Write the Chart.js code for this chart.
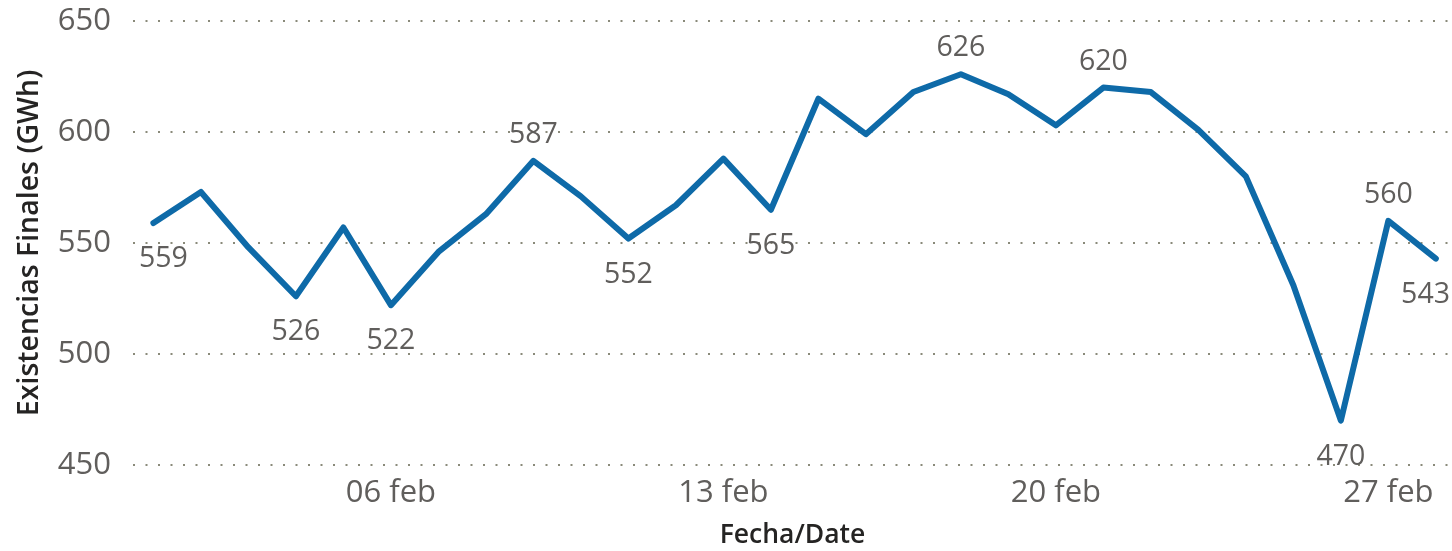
<!DOCTYPE html>
<html>
<head>
<meta charset="utf-8">
<script src="https://cdn.jsdelivr.net/npm/chart.js@4/dist/chart.umd.min.js"></script>
<style>
  html, body { margin: 0; padding: 0; background: #ffffff; }
  #wrap { width: 1452px; height: 551px; position: relative; }
</style>
</head>
<body>
<div id="wrap"><canvas id="c"></canvas></div>
<script>
// ---- data ----
const days = [1,2,3,4,5,6,7,8,9,10,11,12,13,14,15,16,17,18,19,20,21,22,23,24,25,26,27,28];
const existencias = [559,573,548,526,557,522,546,563,587,571,552,567,588,565,615,599,618,626,617,603,620,618,601,580,531,470,560,543];
const tickDays = [6, 13, 20, 27];
const tickLabels = ['06 feb', '13 feb', '20 feb', '27 feb'];
const yTicks = [450, 500, 550, 600, 650];
const labelIdx = [0, 3, 5, 8, 10, 13, 17, 20, 25, 26, 27];
const labelPos = ['below','below','below','above','below','below','above','above','below','above','below'];
const yTitle = 'Existencias Finales (GWh)';
const xTitle = 'Fecha/Date';

const FONT = "'Open Sans', 'Noto Sans', sans-serif";

const dataLabelPlugin = {
  id: 'dataLabels',
  afterDatasetsDraw(chart) {
    const ctx = chart.ctx;
    const meta = chart.getDatasetMeta(0);
    const area = chart.chartArea;
    ctx.save();
    ctx.font = '28.5px ' + FONT;
    ctx.fillStyle = '#605e5c';
    ctx.textAlign = 'center';
    ctx.textBaseline = 'middle';
    labelIdx.forEach((i, k) => {
      const pt = meta.data[i];
      const txt = String(existencias[i]);
      const w = ctx.measureText(txt).width;
      let x = pt.x;
      x = Math.max(x, area.left + w / 2 + 6);
      x = Math.min(x, chart.width - w / 2 - 2);
      const y = labelPos[k] === 'above' ? pt.y - 26 : pt.y + 36;
      ctx.fillText(txt, x, y);
    });
    ctx.restore();
  }
};

new Chart(document.getElementById('c'), {
  type: 'line',
  data: {
    datasets: [{
      data: days.map((d, i) => ({ x: d, y: existencias[i] })),
      borderColor: '#0e6aa8',
      borderWidth: 6,
      pointRadius: 0,
      pointHoverRadius: 0,
      tension: 0,
      borderJoinStyle: 'round',
      borderCapStyle: 'round',
      fill: false
    }]
  },
  options: {
    responsive: true,
    maintainAspectRatio: false,
    animation: false,
    layout: { padding: { top: 21, right: 0, bottom: 0, left: 0 } },
    plugins: {
      legend: { display: false },
      tooltip: { enabled: false }
    },
    scales: {
      x: {
        type: 'linear',
        min: 0.57,
        max: 28.34,
        afterBuildTicks(scale) { scale.ticks = tickDays.map(v => ({ value: v })); },
        afterFit(scale) { scale.height = 86; scale.paddingLeft = 0; scale.paddingRight = 0; },
        grid: { display: false, drawTicks: false },
        border: { display: false },
        ticks: {
          autoSkip: false,
          maxRotation: 0,
          padding: 10,
          color: '#605e5c',
          font: { family: FONT, size: 31 },
          callback(v) { const k = tickDays.indexOf(v); return k >= 0 ? tickLabels[k] : ''; }
        },
        title: {
          display: true,
          text: xTitle,
          color: '#252423',
          font: { family: FONT, size: 26.5, weight: '600' },
          padding: { top: 0, bottom: 0 }
        }
      },
      y: {
        min: 450,
        max: 650,
        afterBuildTicks(scale) { scale.ticks = yTicks.map(v => ({ value: v })); },
        afterFit(scale) { scale.width = 133; scale.paddingTop = 0; scale.paddingBottom = 0; },
        grid: { display: true, drawTicks: false, color: '#8a8a7a', lineWidth: 2 },
        border: { display: false, dash: [2, 10.5] },
        ticks: {
          padding: 22,
          color: '#605e5c',
          font: { family: FONT, size: 31 }
        },
        title: {
          display: true,
          text: yTitle,
          color: '#252423',
          font: { family: FONT, size: 28.5, weight: '600' },
          padding: { top: 13, bottom: 0 }
        }
      }
    }
  },
  plugins: [dataLabelPlugin]
});
</script>
</body>
</html>
